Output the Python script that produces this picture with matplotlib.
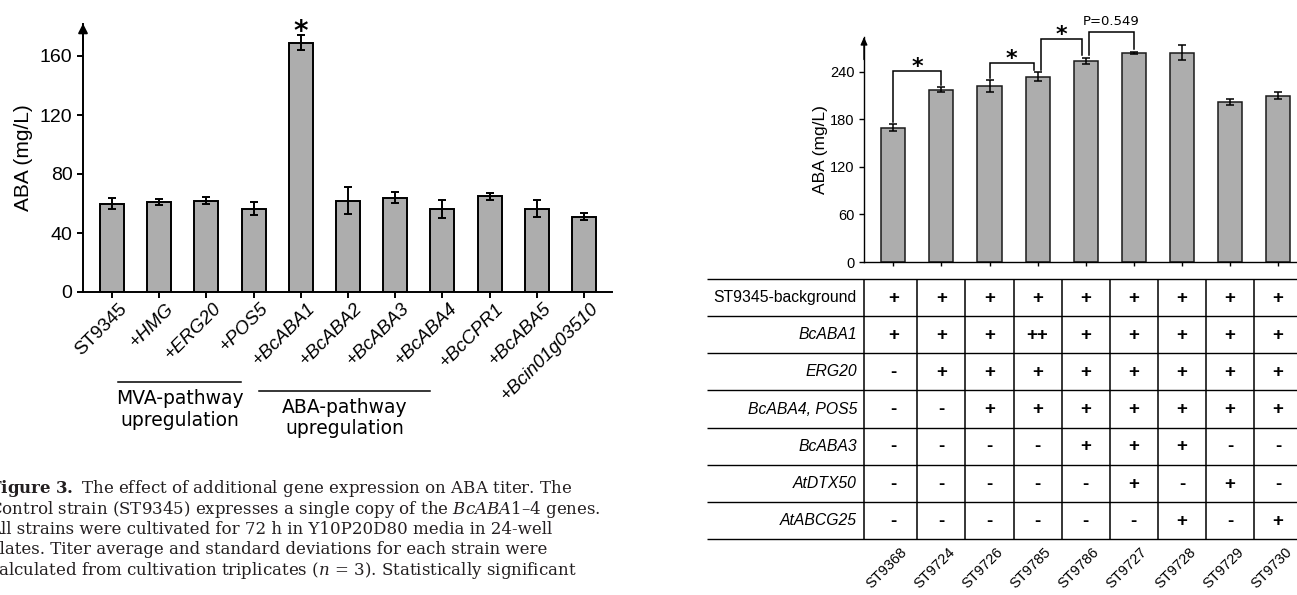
import matplotlib
matplotlib.use("Agg")
import matplotlib.pyplot as plt
from matplotlib import font_manager
import numpy as np

# ---------------- data ----------------
left_strains = ["ST9345", "+HMG", "+ERG20", "+POS5", "+BcABA1", "+BcABA2",
                "+BcABA3", "+BcABA4", "+BcCPR1", "+BcABA5", "+Bcin01g03510"]
left_aba = [60, 61, 62, 56.5, 169, 62, 64, 56.5, 65, 56.5, 51]
left_sd = [3.4, 2.2, 2.4, 4.6, 5.1, 9.3, 3.5, 6.1, 2.4, 5.8, 2.4]
left_sig = [4]                      # index of significantly different strain
left_groups = [("MVA-pathway\nupregulation", 1, 3),
               ("ABA-pathway\nupregulation", 4, 7)]
left_yticks = [0, 40, 80, 120, 160]

right_strains = ["ST9368", "ST9724", "ST9726", "ST9785", "ST9786",
                 "ST9727", "ST9728", "ST9729", "ST9730"]
right_aba = [169.4, 217.3, 222.0, 233.7, 253.5, 264.0, 264.0, 202.0, 209.7]
right_sd = [4.6, 3.2, 7.4, 5.7, 4.2, 1.3, 9.7, 3.8, 4.6]
right_yticks = [0, 60, 120, 180, 240]

genes = ["ST9345-background", "BcABA1", "ERG20", "BcABA4, POS5",
         "BcABA3", "AtDTX50", "AtABCG25"]
genotype = [
    ["+", "+", "+", "+", "+", "+", "+", "+", "+"],
    ["+", "+", "+", "++", "+", "+", "+", "+", "+"],
    ["-", "+", "+", "+", "+", "+", "+", "+", "+"],
    ["-", "-", "+", "+", "+", "+", "+", "+", "+"],
    ["-", "-", "-", "-", "+", "+", "+", "-", "-"],
    ["-", "-", "-", "-", "-", "+", "-", "+", "-"],
    ["-", "-", "-", "-", "-", "-", "+", "-", "+"],
]
comparisons = [(0, 1, "*"), (2, 3, "*"), (3, 4, "*"), (4, 5, "P=0.549")]
bracket_levels = [241, 251, 281, 290]

caption = [
    r"$\mathbf{Figure\ 3.}$ The effect of additional gene expression on ABA titer. The",
    r"Control strain (ST9345) expresses a single copy of the $\mathit{BcABA1}$–$\mathit{4}$ genes.",
    "All strains were cultivated for 72 h in Y10P20D80 media in 24-well",
    "plates. Titer average and standard deviations for each strain were",
    r"calculated from cultivation triplicates ($\mathit{n}$ = 3). Statistically significant",
]

# ---------------- style ----------------
plt.rcParams["font.family"] = "Liberation Sans"
plt.rcParams["mathtext.fontset"] = "custom"
plt.rcParams["mathtext.rm"] = "DejaVu Serif"
plt.rcParams["mathtext.it"] = "DejaVu Serif:italic"
plt.rcParams["mathtext.bf"] = "DejaVu Serif:bold"

installed = {f.name for f in font_manager.fontManager.ttflist}
narrow = "Liberation Sans Narrow" if "Liberation Sans Narrow" in installed else "Liberation Sans"

BAR = "#adadad"
W, H = 1297, 595
fig = plt.figure(figsize=(W / 100, H / 100), dpi=100)


def frame(x0, y0, x1, y1):
    return [x0 / W, 1 - y1 / H, (x1 - x0) / W, (y1 - y0) / H]


def axis_arrow(ax, lw, hl, hw):
    ax.annotate("", xy=(0, 1), xytext=(0, 0.9), xycoords="axes fraction",
                arrowprops=dict(arrowstyle=f"-|>,head_length={hl},head_width={hw}",
                                color="black", lw=lw, shrinkA=0, shrinkB=0,
                                mutation_scale=10))


# ---------------- left chart ----------------
L_X0, L_X1, L_ZERO, L_PXU, L_STEP, L_FIRST = 83, 612, 292, 1.475, 47.2, 112
L_TOP = 182
ax1 = fig.add_axes(frame(L_X0, L_ZERO - L_TOP * L_PXU, L_X1, L_ZERO))
xl = np.arange(len(left_strains))
ax1.set_xlim((L_X0 - L_FIRST) / L_STEP, (L_X1 - L_FIRST) / L_STEP)
ax1.set_ylim(0, L_TOP)
ax1.bar(xl, left_aba, width=0.51, color=BAR, edgecolor="black", linewidth=1.4,
        yerr=left_sd, error_kw=dict(ecolor="black", elinewidth=1.4, capsize=3.2,
                                    capthick=1.4), zorder=2)
for s in ("top", "right"):
    ax1.spines[s].set_visible(False)
for s in ("left", "bottom"):
    ax1.spines[s].set_linewidth(1.4)
ax1.set_yticks(left_yticks)
ax1.tick_params(axis="y", direction="out", length=4.5, width=1.4, labelsize=14, pad=3)
ax1.tick_params(axis="x", direction="out", length=4, width=1.4)
ax1.set_xticks(xl)
ax1.set_xticklabels([])
ax1.set_ylabel("ABA (mg/L)", fontsize=15)
ax1.yaxis.set_label_coords(-0.094, 0.5)
axis_arrow(ax1, 1.4, 0.55, 0.28)

for i, name in enumerate(left_strains):
    ax1.text(i + 6 / L_STEP, -8 / L_PXU, name, rotation=45, ha="right", va="top",
             rotation_mode="anchor", fontsize=13.5,
             style="italic" if name.startswith("+") else "normal", clip_on=False)

for i in left_sig:
    ax1.annotate("*", xy=(i, left_aba[i] + left_sd[i]), xytext=(0, -3.5),
                 textcoords="offset points", ha="center", va="baseline",
                 fontsize=20, fontweight="bold", family="DejaVu Sans")

line_y = [-61, -67]
for (label, a, b), ly in zip(left_groups, line_y):
    xa, xb = a - 0.88, b - 0.26
    ax1.plot([xa, xb], [ly, ly], color="black", lw=1.1, clip_on=False)
    ax1.text((xa + xb) / 2, ly - 5, label, ha="center", va="top", fontsize=13.5,
             family="DejaVu Sans", linespacing=1.15, clip_on=False)

# ---------------- right chart ----------------
R_X0, R_X1, R_ZERO, R_PXU, R_STEP, R_FIRST = 864, 1297, 262, 0.793, 48.1, 893.3
R_TOPPX = 37
ax2 = fig.add_axes(frame(R_X0, R_TOPPX, R_X1, R_ZERO))
xr = np.arange(len(right_strains))
ax2.set_xlim((R_X0 - R_FIRST) / R_STEP, (R_X1 - R_FIRST) / R_STEP)
ax2.set_ylim(0, (R_ZERO - R_TOPPX) / R_PXU)
ax2.bar(xr, right_aba, width=0.5, color=BAR, edgecolor="#1a1a1a", linewidth=1.1,
        yerr=right_sd, error_kw=dict(ecolor="black", elinewidth=1.1, capsize=3,
                                     capthick=1.1), zorder=2)
for s in ("top", "right"):
    ax2.spines[s].set_visible(False)
for s in ("left", "bottom"):
    ax2.spines[s].set_linewidth(1.0)
ax2.set_yticks(right_yticks)
ax2.set_yticklabels([str(v) for v in right_yticks], family=narrow)
ax2.tick_params(axis="y", direction="out", length=3.5, width=1.0, labelsize=10.5, pad=3.5)
ax2.tick_params(axis="x", direction="out", length=3, width=1.0)
ax2.set_xticks(xr)
ax2.set_xticklabels([])
ax2.set_ylabel("ABA (mg/L)", fontsize=12.5)
ax2.yaxis.set_label_coords(-36 / (R_X1 - R_X0), 0.5)
axis_arrow(ax2, 1.0, 0.45, 0.2)

gap = 3
for k, ((a, b, mark), lvl) in enumerate(zip(comparisons, bracket_levels)):
    xa = a + (0.07 if k > 0 and comparisons[k - 1][1] == a else 0)
    xb = b - (0.07 if k + 1 < len(comparisons) and comparisons[k + 1][0] == b else 0)
    ya = right_aba[a] + right_sd[a] + gap
    yb = right_aba[b] + right_sd[b] + gap
    ax2.plot([xa, xa, xb, xb], [ya, lvl, lvl, yb], color="black", lw=1.1,
             clip_on=False, solid_joinstyle="miter")
    if mark == "*":
        ax2.annotate(mark, xy=((xa + xb) / 2, lvl), xytext=(0, -1.5),
                     textcoords="offset points", ha="center", va="baseline",
                     fontsize=16, fontweight="bold", family="DejaVu Sans",
                     annotation_clip=False)
    else:
        ax2.annotate(mark, xy=((xa + xb) / 2, lvl), xytext=(0, 5),
                     textcoords="offset points", ha="center", va="baseline",
                     fontsize=9.5, family="DejaVu Sans", annotation_clip=False)

# ---------------- genotype table ----------------
T_X0, T_Y0, T_Y1 = 707, 279, 539
ax3 = fig.add_axes(frame(T_X0, T_Y0, W, T_Y1))
tx0, tx1 = (T_X0 - R_FIRST) / R_STEP, (W - R_FIRST) / R_STEP
ax3.set_xlim(tx0, tx1)
nrow = len(genes)
ax3.set_ylim(nrow, 0)
ax3.axis("off")
ax3.hlines(np.arange(nrow + 1), tx0, tx1, color="black", lw=1.0, clip_on=False)
col_edges = [(R_X0 - R_FIRST) / R_STEP] + [i + 0.5 for i in range(len(right_strains))]
ax3.vlines(col_edges, 0, nrow, color="black", lw=1.1, clip_on=False)
for r, gene in enumerate(genes):
    ax3.text(col_edges[0] - 7 / R_STEP, r + 0.5, gene, ha="right", va="center",
             fontsize=11.3, style="normal" if r == 0 else "italic")
    for j, val in enumerate(genotype[r]):
        ax3.text(j, r + 0.52, val, ha="center", va="center", fontsize=13.5,
                 fontweight="bold")
row_px = (T_Y1 - T_Y0) / nrow
for j, name in enumerate(right_strains):
    ax3.text(j + 6.5 / R_STEP, nrow + 6 / row_px, name, rotation=45, ha="right",
             va="top", rotation_mode="anchor", fontsize=10.5, clip_on=False)

# ---------------- caption ----------------
cap_x, cap_base, cap_step, cap_right = -11, 493, 20.5, 603
fs = 11.5
cap_texts = [fig.text(cap_x / W, 1 - (cap_base + k * cap_step) / H, s,
                      family="DejaVu Serif", fontsize=fs, va="baseline", ha="left",
                      color="#231f20")
             for k, s in enumerate(caption)]
renderer = fig.canvas.get_renderer()
width = cap_texts[1].get_window_extent(renderer).width
for t in cap_texts:
    t.set_fontsize(fs * (cap_right - cap_x) / width)

fig.savefig("out.png", dpi=100)
